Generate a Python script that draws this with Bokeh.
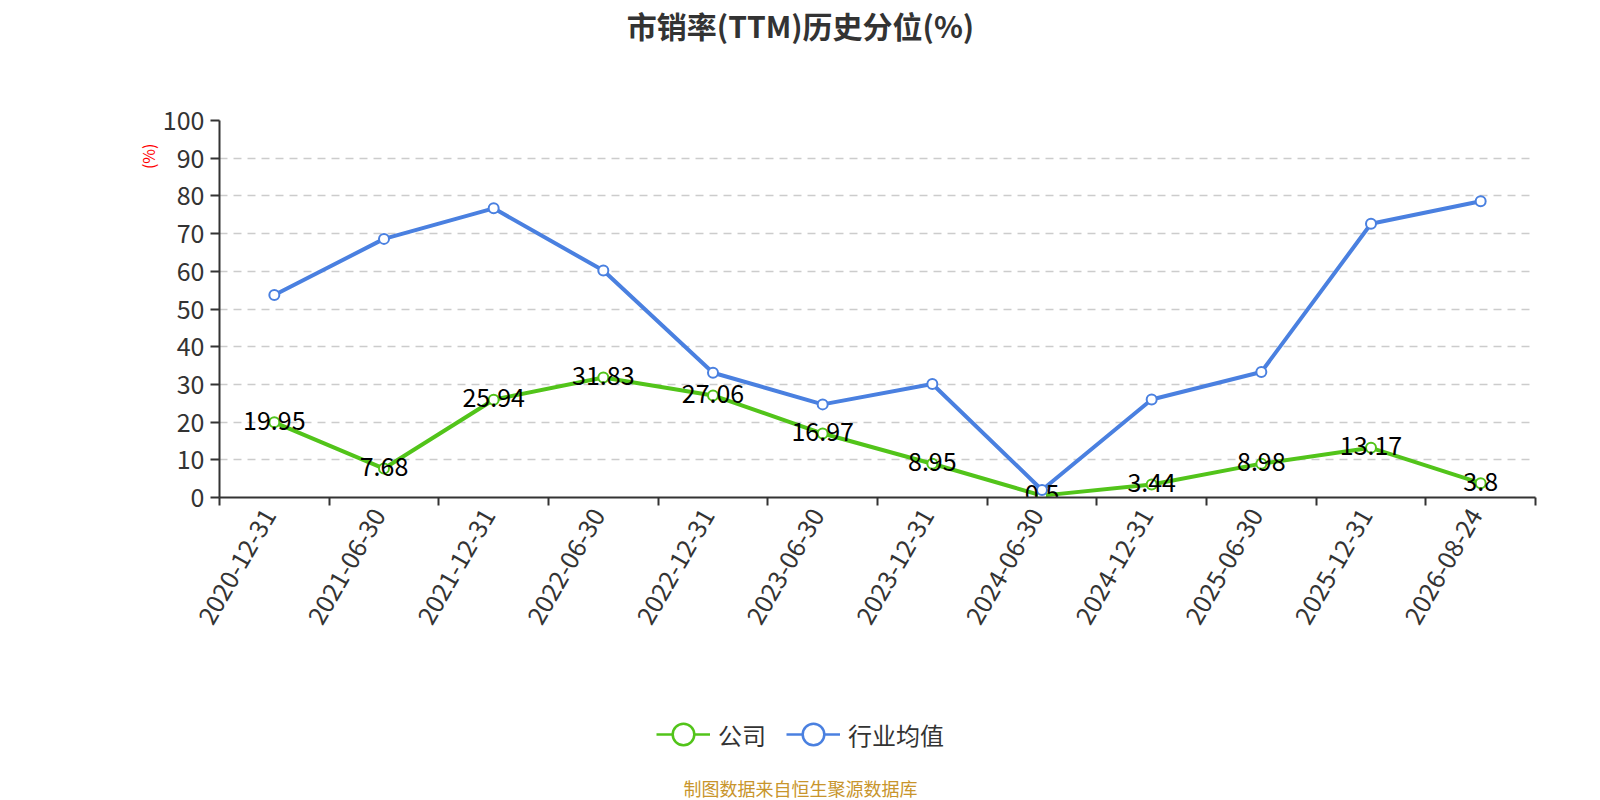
import math
from bokeh.plotting import figure
from bokeh.layouts import column
from bokeh.models import (ColumnDataSource, Range1d, FixedTicker, Legend,
                          LegendItem, Title, Label)
from bokeh.core.properties import value
from bokeh.embed import file_html
from bokeh.resources import INLINE

categories = ["2020-12-31", "2021-06-30", "2021-12-31", "2022-06-30", "2022-12-31",
              "2023-06-30", "2023-12-31", "2024-06-30", "2024-12-31", "2025-06-30",
              "2025-12-31", "2026-08-24"]
company = [19.95, 7.68, 25.94, 31.83, 27.06, 16.97, 8.95, 0.5, 3.44, 8.98, 13.17, 3.8]
industry = [53.7, 68.6, 76.7, 60.2, 33.1, 24.7, 30.1, 2.0, 26.0, 33.3, 72.6, 78.6]
y_ticks = [0, 10, 20, 30, 40, 50, 60, 70, 80, 90, 100]
title_text = "市销率(TTM)历史分位(%)"
y_unit = "(%)"
series_names = ["公司", "行业均值"]
footer_text = "制图数据来自恒生聚源数据库"

GREEN = "#52c41a"
BLUE = "#4a80e0"
FONT = "Noto Sans CJK SC"
W = 1590
LEFT = 219
RIGHT = 55
FRAME_W = W - LEFT - RIGHT
TOP_H = 100
BOTTOM_H = 153
n = len(categories)
xs = [i + 0.5 for i in range(n)]
label_ticks = [x - 0.05 for x in xs]

src = ColumnDataSource(dict(
    x=xs, company=company, industry=industry,
    clabel=[f"{v:g}" for v in company],
))


def strip(height):
    f = figure(width=W, height=height, x_range=Range1d(LEFT, LEFT + FRAME_W),
               y_range=Range1d(0, height), x_axis_type=None, y_axis_type=None,
               min_border_left=LEFT, min_border_right=RIGHT,
               min_border_top=0, min_border_bottom=0, title=None,
               output_backend="svg", toolbar_location=None,
               background_fill_color="white", border_fill_color="white")
    f.outline_line_color = None
    return f


# ---------- header strip (title) ----------
top = strip(TOP_H)
top.add_layout(Label(x=800, y=TOP_H - 24, text=title_text, text_align="center",
                     text_baseline="middle", text_font=FONT, text_font_size="30px",
                     text_font_style="bold", text_color="#333333"))

# ---------- main chart ----------
p = figure(frame_width=FRAME_W, frame_height=377,
           min_border_left=LEFT, min_border_right=RIGHT,
           min_border_top=20, min_border_bottom=150, title=None,
           x_range=Range1d(0, n), y_range=Range1d(0, 100),
           output_backend="svg", toolbar_location=None,
           background_fill_color="white", border_fill_color="white")
p.outline_line_color = None

xa = p.xaxis[0]
xa.ticker = FixedTicker(ticks=label_ticks, minor_ticks=list(range(n + 1)))
xa.major_label_overrides = {x: c for x, c in zip(label_ticks, categories)}
xa.major_label_orientation = math.pi / 3
xa.major_tick_line_color = None
xa.major_tick_out = 8
xa.major_tick_in = 0
xa.minor_tick_line_color = "#333333"
xa.minor_tick_line_width = 2
xa.minor_tick_out = 8
xa.minor_tick_in = 0
xa.axis_line_color = "#333333"
xa.axis_line_width = 2
xa.major_label_text_font = FONT
xa.major_label_text_font_size = "25px"
xa.major_label_text_color = "#333333"
xa.major_label_standoff = 5

ya = p.yaxis[0]
ya.ticker = FixedTicker(ticks=y_ticks, minor_ticks=[])
ya.major_tick_line_color = "#333333"
ya.major_tick_line_width = 2
ya.major_tick_out = 9
ya.major_tick_in = 0
ya.minor_tick_line_color = None
ya.axis_line_color = "#333333"
ya.axis_line_width = 2
ya.major_label_text_font = FONT
ya.major_label_text_font_size = "25px"
ya.major_label_text_color = "#333333"
ya.major_label_standoff = 6

p.xgrid.visible = False
p.ygrid.ticker = FixedTicker(ticks=y_ticks)
p.ygrid.grid_line_color = "#cccccc"
p.ygrid.grid_line_width = 1.5
p.ygrid.grid_line_dash = "8 6"

p.line("x", "company", source=src, line_color=GREEN, line_width=4)
p.line("x", "industry", source=src, line_color=BLUE, line_width=4)
p.scatter("x", "company", source=src, size=10, fill_color="white",
          line_color=GREEN, line_width=2)
p.scatter("x", "industry", source=src, size=10, fill_color="white",
          line_color=BLUE, line_width=2)
p.text("x", "company", text="clabel", source=src, text_align="center",
       text_baseline="middle", y_offset=-2, text_color="black",
       text_font=value(FONT), text_font_size="25px")

p.add_layout(Title(text=y_unit, align="right", offset=23, standoff=0,
                   text_font=FONT, text_font_size="16px",
                   text_font_style="normal", text_color="red"), "left")

# ---------- footer strip (legend + source) ----------
bottom = strip(BOTTOM_H)
# legend-only renderers, kept outside the visible range
hidden = ColumnDataSource(dict(x=[-10000], y=[-10000]))
lg1 = bottom.line("x", "y", source=hidden, line_color=GREEN, line_width=2.5)
sg1 = bottom.scatter("x", "y", source=hidden, size=22, fill_color="white",
                     line_color=GREEN, line_width=2.5)
lg2 = bottom.line("x", "y", source=hidden, line_color=BLUE, line_width=2.5)
sg2 = bottom.scatter("x", "y", source=hidden, size=22, fill_color="white",
                     line_color=BLUE, line_width=2.5)
legend = Legend(items=[LegendItem(label=series_names[0], renderers=[lg1, sg1]),
                       LegendItem(label=series_names[1], renderers=[lg2, sg2])],
                orientation="horizontal", location=(656 - LEFT, 38),
                glyph_width=54, glyph_height=56, label_height=24,
                label_standoff=8, spacing=20, padding=0, margin=0,
                border_line_color=None, background_fill_alpha=0,
                label_text_font=FONT, label_text_font_size="24px",
                label_text_color="#333333")
bottom.add_layout(legend, "center")
bottom.add_layout(Label(x=800, y=13, text=footer_text, text_align="center",
                        text_baseline="middle", text_font=FONT,
                        text_font_size="18px", text_color="#c8952c"))

layout = column(top, p, bottom, spacing=0)
open("out.html", "w").write(file_html(layout, INLINE))
